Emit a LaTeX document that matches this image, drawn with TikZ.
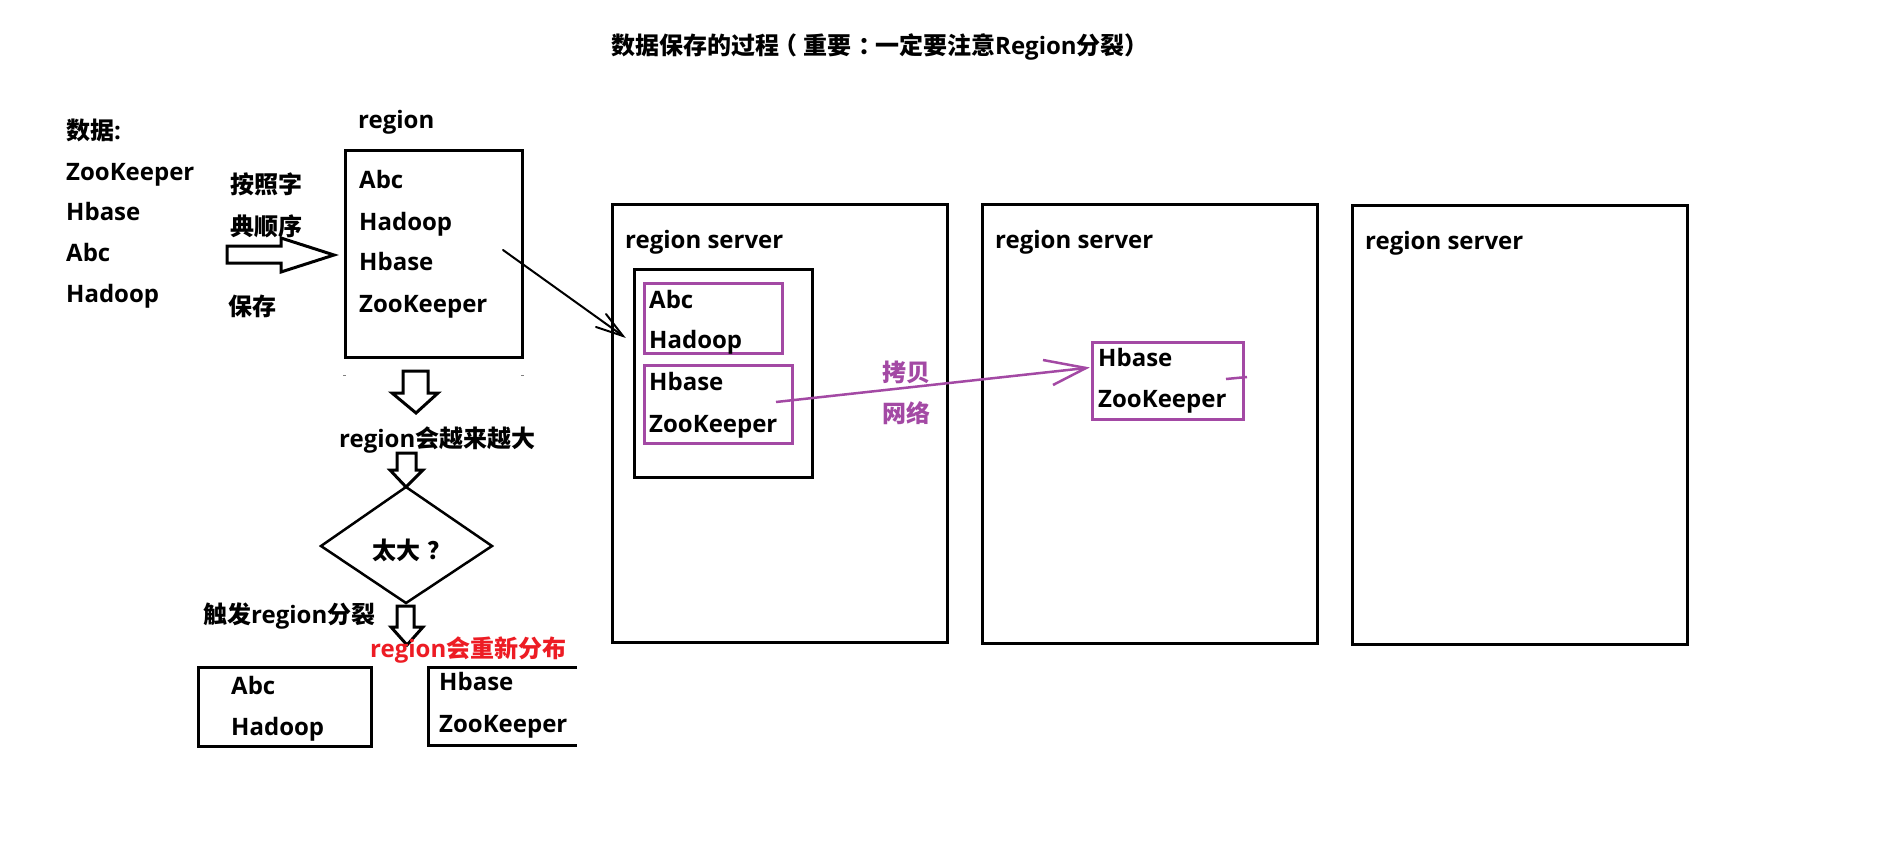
\documentclass[tikz,border=0pt]{standalone}
\usepackage{fontspec}
\setmainfont{Open Sans}
\newfontfamily\cjk{Noto Sans CJK SC}
\usetikzlibrary{arrows.meta}
\definecolor{ppl}{HTML}{A349A4}
\definecolor{rd}{HTML}{ED1C24}
\begin{document}
\begin{tikzpicture}[x=1pt,y=-1pt,
  txt/.style={anchor=base west,inner sep=0pt,font=\bfseries\fontsize{24}{28}\selectfont},
  box/.style={draw=black,line width=3pt},
  pbox/.style={draw=ppl,line width=3pt},
  hollow/.style={draw=black,line width=3pt,line join=miter,fill=white}]
\useasboundingbox (0,0) rectangle (1879,849);
\fill[white] (0,0) rectangle (1879,849);

% title
\node[txt] (title) at (611,54) {\cjk 数据保存的过程\kern-6pt（\kern6pt 重要\kern7pt：\kern-7pt 一定要注意{\rmfamily Region}分裂）};

% data list
\node[txt] (data) at (66,139) {{\cjk 数据}:};
\node[txt] (d1) at (66,180) {ZooKeeper};
\node[txt] (d2) at (66,220) {Hbase};
\node[txt] (d3) at (66,261) {Abc};
\node[txt] (d4) at (66,302) {Hadoop};

\node[txt] (s1) at (230,193) {\cjk 按照字};
\node[txt] (s2) at (230,235) {\cjk 典顺序};
\node[txt] (s3) at (228,315) {\cjk 保存};

% right hollow arrow
\draw[hollow] (227,246) -- (281,246) -- (281,238) -- (334,255) -- (281,272) -- (281,263) -- (227,263) -- cycle;

% region box
\draw[box] (345,150) rectangle (522,357);
\node[txt] (reglbl) at (358,128) {region};
\node[txt] (r1) at (359,188) {Abc};
\node[txt] (r2) at (359,230) {Hadoop};
\node[txt] (r3) at (359,270) {Hbase};
\node[txt] (r4) at (359,312) {ZooKeeper};

% tiny marks
\fill[gray] (343,374.5) rectangle (346,375.5);
\fill[gray] (521,374.5) rectangle (524,375.5);

% hollow down arrows
\draw[hollow] (403,371) -- (428,371) -- (428,393) -- (438,393) -- (416,413) -- (392,393) -- (403,393) -- cycle;
\node[txt] (grow) at (339,447) {region{\cjk 会越来越大}};
\draw[hollow] (397,453) -- (416,453) -- (416,470) -- (423,470) -- (406,487) -- (390,470) -- (397,470) -- cycle;

% diamond
\draw[black,line width=2.5pt,line join=miter] (406,487) -- (492,546) -- (406,603) -- (321,546) -- cycle;
\node[txt] (big) at (372,559) {\cjk 太大\kern7pt？};

\node[txt] (split) at (203,623) {{\cjk 触发}region{\cjk 分裂}};
\draw[hollow] (397,606) -- (414,606) -- (414,627) -- (423,627) -- (407,645) -- (391,627) -- (397,627) -- cycle;
\node[txt,text=rd] (redist) at (370,657) {region{\cjk 会重新分布}};

% bottom boxes
\draw[box] (198,667) rectangle (371,746);
\node[txt] (b1) at (231,694) {Abc};
\node[txt] (b2) at (231,735) {Hadoop};
\draw[box] (577,667) -- (428,667) -- (428,745) -- (577,745);
\node[txt] (b3) at (439,690) {Hbase};
\node[txt] (b4) at (439,732) {ZooKeeper};

% region servers
\draw[box] (612.5,204.5) rectangle (947,642);
\node[txt] (rs1) at (625,248) {region server};
\draw[box] (982,204.5) rectangle (1317,643);
\node[txt] (rs2) at (995,248) {region server};
\draw[box] (1352,205.5) rectangle (1687,644);
\node[txt] (rs3) at (1365,249) {region server};

% inner box in RS1
\draw[box] (634,269) rectangle (812,477);
\draw[pbox] (644,283) rectangle (782,353);
\node[txt] (i1) at (649,308) {Abc};
\node[txt] (i2) at (649,348) {Hadoop};
\draw[pbox] (644,365) rectangle (792,443);
\node[txt] (i3) at (649,390) {Hbase};
\node[txt] (i4) at (649,432) {ZooKeeper};

% RS2 copy
\draw[pbox] (1092,342) rectangle (1243,419);
\node[txt] (c1) at (1098,366) {Hbase};
\node[txt] (c2) at (1098,407) {ZooKeeper};

% black pointer arrow
\coordinate (pa) at (503,250);
\coordinate (pb) at (623,336);
\coordinate (pk1) at (606,314);
\coordinate (pk2) at (596,327);
\draw[black,line width=2pt,line cap=round] (pa) -- (pb);
\draw[black,line width=2pt,line cap=round,line join=miter] (pk1) -- (pb) -- (pk2);

% purple copy arrow
\coordinate (qa) at (776,402);
\coordinate (qb) at (1086,368);
\coordinate (qk1) at (1043,360);
\coordinate (qk2) at (1053,385);
\draw[ppl,line width=2.5pt] (qa) -- (qb);
\draw[ppl,line width=2.5pt,line join=miter] (qk1) -- (qb) -- (qk2);
\coordinate (ta) at (1226,379);
\coordinate (tb) at (1247,377);
\draw[ppl,line width=2.5pt] (ta) -- (tb);

\node[txt,text=ppl] (copy1) at (882,381) {\cjk 拷贝};
\node[txt,text=ppl] (copy2) at (882,422) {\cjk 网络};
\end{tikzpicture}
\end{document}
